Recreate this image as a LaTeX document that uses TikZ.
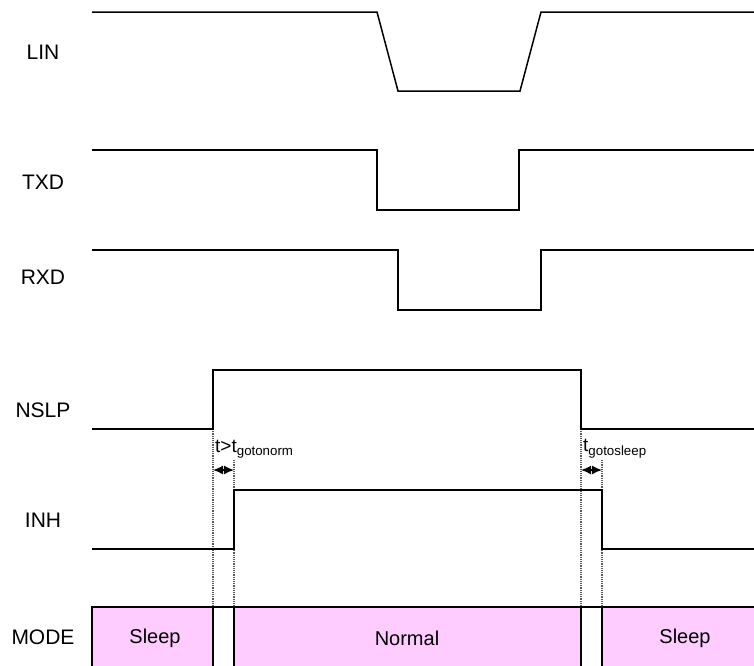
\documentclass[tikz,border=0pt]{standalone}
\usepackage{fontspec}
\setmainfont{Liberation Sans}
\usetikzlibrary{arrows.meta}

\begin{document}
\begin{tikzpicture}[x=1pt,y=-1pt,
  signal/.style={line width=1.5pt, line join=miter},
  repere/.style={densely dotted, line width=1.2pt, black!65},
  fleche/.style={{Latex[length=10pt,width=9pt]}-{Latex[length=10pt,width=9pt]}, line width=1.5pt},
  nom/.style={font=\fontsize{21}{25}\selectfont, inner sep=0pt},
  duree/.style={font=\fontsize{19}{23}\selectfont, inner sep=0pt, anchor=south west},
  etat/.style={font=\fontsize{20}{24}\selectfont, inner sep=0pt}]
  % Définition des couleurs
  \definecolor{rose}{RGB}{255,204,255}
  \useasboundingbox (0,0) rectangle (754,665);

  % Noms des signaux
  \node[nom] (lin)  at (43,52)  {LIN};
  \node[nom] (txd)  at (43,182) {TXD};
  \node[nom] (rxd)  at (43,277) {RXD};
  \node[nom] (nslp) at (43,410) {NSLP};
  \node[nom] (inh)  at (43,520) {INH};
  \node[nom] (mode) at (43,637) {MODE};

  % --- Zone MODE (en bas) ---
  \fill[rose] (92,607) rectangle (213,670);
  \fill[rose] (234,607) rectangle (581,670);
  \fill[rose] (602,607) rectangle (760,670);
  \draw[signal] (92,670) -- (92,607) -- (760,607);
  \foreach \x in {213,234,581,602}
    \draw[signal] (\x,607) -- (\x,670);
  \node[etat] (veille1) at (155,638) {Sleep};
  \node[etat] (normal)  at (407,638) {Normal};
  \node[etat] (veille2) at (685,638) {Sleep};

  % --- Repères pointillés ---
  \draw[repere] (213,429) -- (213,607);
  \draw[repere] (234,460) -- (234,607);
  \draw[repere] (581,429) -- (581,607);
  \draw[repere] (602,460) -- (602,607);

  % --- Chronogrammes ---
  \draw[signal] (92,12) -- (377,12) -- (398,91) -- (520,91) -- (541,12) -- (754,12);
  \draw[signal, line width=1.8pt] (92,150) -- (377,150) -- (377,210) -- (519,210) -- (519,150) -- (754,150);
  \draw[signal] (92,250) -- (398,250) -- (398,310) -- (541,310) -- (541,250) -- (754,250);
  \draw[signal] (92,429) -- (213,429) -- (213,370) -- (581,370) -- (581,429) -- (754,429);
  \draw[signal] (92,549) -- (234,549) -- (234,490) -- (602,490) -- (602,549) -- (754,549);

  % --- Durées ---
  \coordinate (a1) at (213,470);
  \coordinate (a2) at (234,470);
  \coordinate (b1) at (581,470);
  \coordinate (b2) at (602,470);
  \draw[fleche] (a1) -- (a2);
  \draw[fleche] (b1) -- (b2);
  \node[duree] (tnorm)  at (215,458) {t>t\textsubscript{gotonorm}};
  \node[duree] (tsleep) at (583,458) {t\textsubscript{gotosleep}};

\end{tikzpicture}
\end{document}
